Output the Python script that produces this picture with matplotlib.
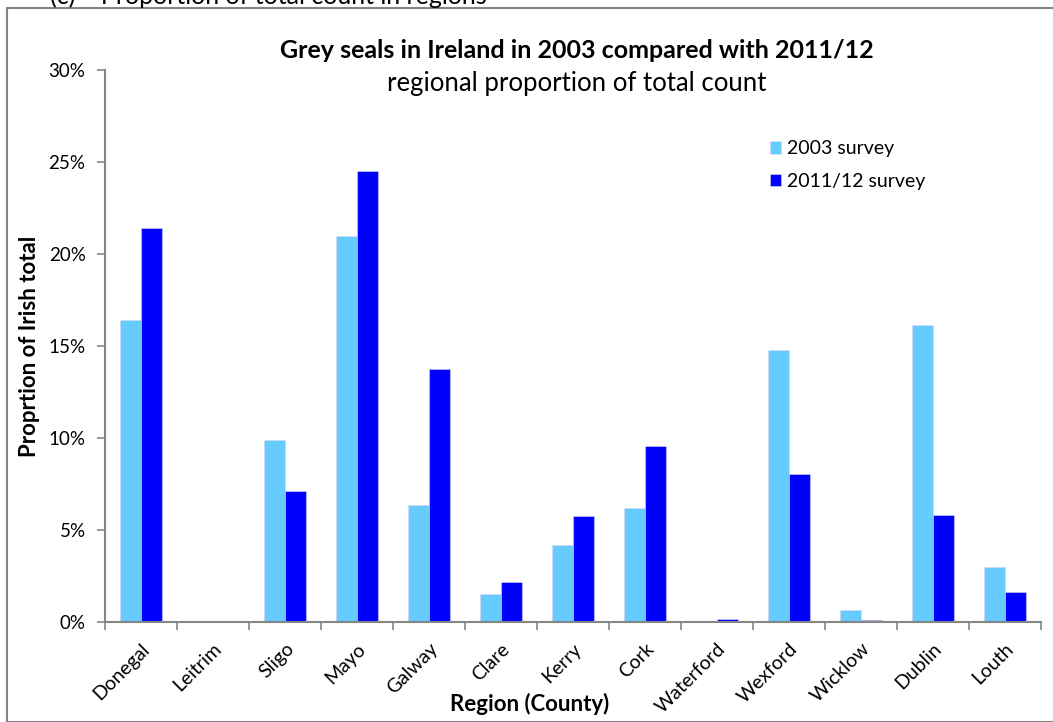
import matplotlib.pyplot as plt
import numpy as np
from matplotlib.patches import Rectangle
from matplotlib.ticker import PercentFormatter

plt.rcParams['font.family'] = ['Lato', 'DejaVu Sans']

regions = ['Donegal', 'Leitrim', 'Sligo', 'Mayo', 'Galway', 'Clare', 'Kerry',
           'Cork', 'Waterford', 'Wexford', 'Wicklow', 'Dublin', 'Louth']
survey_2003 = [16.4, 0.0, 9.9, 21.0, 6.35, 1.5, 4.2, 6.2, 0.0, 14.8, 0.65, 16.15, 3.0]
survey_2011 = [21.4, 0.0, 7.1, 24.5, 13.75, 2.2, 5.75, 9.55, 0.15, 8.05, 0.12, 5.8, 1.63]
labels = ['2003 survey', '2011/12 survey']

light = '#66CCFF'
dark = '#0000FF'
grey = '#868686'

fig = plt.figure(figsize=(10.53, 7.22), dpi=100)
ax = fig.add_axes([105/1053, 1 - 622/722, 936/1053, 552/722])

x = np.arange(len(regions))
w = 0.285
ax.bar(x - w/2, survey_2003, w, color=light, edgecolor='#D8D8F0', linewidth=0.4, label=labels[0])
ax.bar(x + w/2, survey_2011, w, color=dark, edgecolor='#D8D8F0', linewidth=0.4, label=labels[1])

ax.set_xlim(-0.5, len(regions) - 0.5)
ax.set_ylim(0, 30)
ax.set_yticks(np.arange(0, 31, 5))
ax.yaxis.set_major_formatter(PercentFormatter(decimals=0))
ax.tick_params(axis='y', labelsize=13.5, length=6, color=grey, width=1.2, pad=8)

ax.set_xticks(x)
ax.set_xticklabels(regions, rotation=45, ha='right', rotation_mode='anchor', fontsize=14)
ax.set_xticks(np.arange(-0.5, len(regions)), minor=True)
ax.tick_params(axis='x', which='major', length=0, pad=13)
ax.tick_params(axis='x', which='minor', length=6, color=grey, width=1.2)

for s in ['top', 'right']:
    ax.spines[s].set_visible(False)
for s in ['left', 'bottom']:
    ax.spines[s].set_color(grey)
    ax.spines[s].set_linewidth(1.5)

ax.set_ylabel('Proprtion of Irish total', fontsize=16, fontweight='bold', labelpad=6)
fig.text(530/1053, 1 - 704/722, 'Region (County)', fontsize=16, fontweight='bold',
         ha='center', va='center')

fig.text(577/1053, 1 - 50/722, 'Grey seals in Ireland in 2003 compared with 2011/12',
         fontsize=18, fontweight='bold', ha='center', va='center')
fig.text(577/1053, 1 - 83/722, 'regional proportion of total count',
         fontsize=18.5, ha='center', va='center')

ax.legend(loc='upper left', bbox_to_anchor=(647/936, 1 - 53/552), frameon=False,
          fontsize=14, handlelength=0.6, handleheight=0.6, handletextpad=0.3,
          labelspacing=0.8)

# cut-off caption above the frame and the frame itself
fig.text(50/1053, 1 + 4/722, '(c)    Proportion of total count in regions', fontsize=18,
         ha='left', va='center')
fig.patches.append(Rectangle((7/1053, 0), 1.1, 1 - 8/722, transform=fig.transFigure,
                             fill=False, edgecolor=grey, linewidth=1.5))

fig.savefig('out.png', dpi=100)
